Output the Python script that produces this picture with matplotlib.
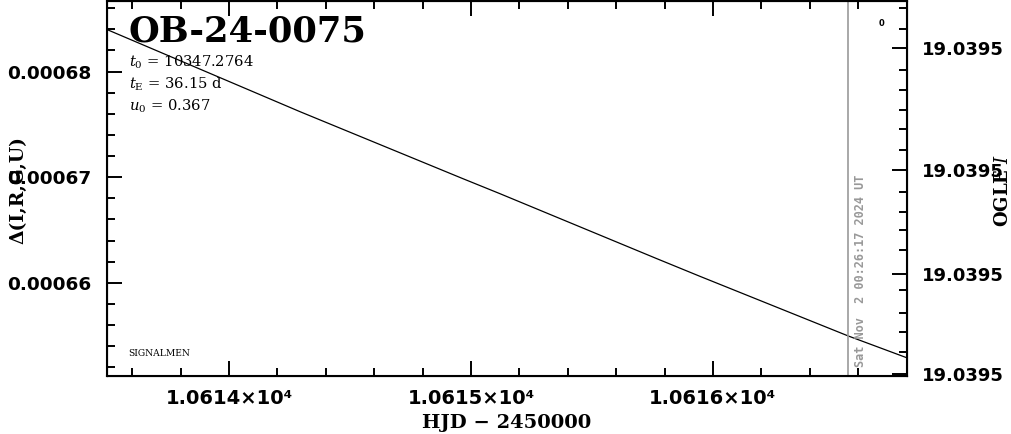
import matplotlib
matplotlib.use('Agg')
import matplotlib.pyplot as plt
from matplotlib.ticker import MultipleLocator, FixedLocator, FuncFormatter, FormatStrFormatter

# model curve
hjd = [10613.496, 10614.293, 10614.967, 10615.120, 10615.769, 10615.946, 10616.558, 10616.802]
delta = [0.00068398, 0.00067621, 0.00066986, 0.00066844, 0.00066228, 0.00066062, 0.00065498, 0.00065290]

event = 'OB-24-0075'
params = [r'$t_0$ = 10347.2764', r'$t_{\rm E}$ = 36.15 d', r'$u_0$ = 0.367']
now_hjd = 10616.56
now_text = 'Sat Nov  2 00:26:17 2024 UT'

# OGLE I axis (all labels round to 19.0395)
mag_lim = (19.0395368, 19.0395001)
mag_major = [19.0395047, 19.0395167, 19.0395268, 19.0395366]
mag_minor = [19.0395008, 19.0395029, 19.0395069, 19.0395088, 19.0395108, 19.0395127,
             19.0395147, 19.0395188, 19.0395208, 19.0395225, 19.0395245, 19.0395284,
             19.0395306, 19.0395325, 19.0395345]

plt.rcParams['mathtext.fontset'] = 'dejavuserif'

fig = plt.figure(figsize=(10.11, 4.34), dpi=100)
ax = fig.add_axes([107/1011, 1 - 376/434, 800/1011, 375.5/434])

ax.plot(hjd, delta, color='black', lw=0.9)
ax.axvline(now_hjd, color='#999999', lw=1.2)
ax.text(now_hjd + 0.023, 0.000652, now_text, rotation=90, color='#999999',
        family='DejaVu Sans Mono', fontweight='bold', fontsize=8.6, ha='left', va='bottom')

ax.set_xlim(10613.496, 10616.802)
ax.set_ylim(0.00065118, 0.00068673)

ax.xaxis.set_major_locator(MultipleLocator(1))
ax.xaxis.set_minor_locator(MultipleLocator(0.2))
ax.xaxis.set_major_formatter(FuncFormatter(lambda v, p: f'{v/1e4:.4f}×10⁴'))
ax.yaxis.set_major_locator(MultipleLocator(1e-5))
ax.yaxis.set_minor_locator(MultipleLocator(2e-6))
ax.yaxis.set_major_formatter(FormatStrFormatter('%.5f'))

ax.tick_params(which='both', direction='in', top=True, right=False, width=1.4, color='black')
ax.tick_params(which='major', length=10.5)
ax.tick_params(which='minor', length=5.5)
ax.tick_params(axis='x', which='major', pad=9)
ax.tick_params(axis='y', which='major', pad=11)
for lab in ax.get_xticklabels():
    lab.set_fontweight('bold')
    lab.set_fontsize(14)
for lab in ax.get_yticklabels():
    lab.set_fontweight('bold')
    lab.set_fontsize(13.3)
for s in ax.spines.values():
    s.set_linewidth(1.5)

ax2 = ax.twinx()
ax2.set_ylim(*mag_lim)
ax2.yaxis.set_major_locator(FixedLocator(mag_major))
ax2.yaxis.set_minor_locator(FixedLocator(mag_minor))
ax2.yaxis.set_major_formatter(FormatStrFormatter('%.4f'))
ax2.tick_params(which='both', direction='in', width=1.4)
ax2.tick_params(which='major', length=10.5, pad=11)
ax2.tick_params(which='minor', length=5.5)
for lab in ax2.get_yticklabels():
    lab.set_fontweight('bold')
    lab.set_fontsize(13)

ax.set_xlabel('HJD − 2450000', family='DejaVu Serif', fontweight='bold', fontsize=14, labelpad=5)
ax.set_ylabel('Δ(I,R,G,U)', family='DejaVu Serif', fontweight='bold', fontsize=13.5)
ax.yaxis.set_label_coords(-0.1, 0.495)
ax2.set_ylabel('OGLE $\\mathit{I}$', family='DejaVu Serif', fontweight='bold', fontsize=13)
ax2.yaxis.set_label_coords(1.109, 0.493)

ax.text(0.027, 0.963, event, transform=ax.transAxes, family='DejaVu Serif', fontweight='bold',
        fontsize=25.5, va='top', ha='left')
for i, t in enumerate(params):
    ax.text(0.027, 0.836 - i * 0.0586, t, transform=ax.transAxes, family='DejaVu Serif',
            fontsize=10.6, va='center', ha='left')
ax.text(0.027, 0.06, 'SIGNALMEN', transform=ax.transAxes, family='DejaVu Serif',
        fontsize=6.6, va='center', ha='left')
ax.text(0.9687, 0.94, '0', transform=ax.transAxes, fontweight='bold', fontsize=6,
        va='center', ha='center')

fig.savefig('out.png', dpi=100)
